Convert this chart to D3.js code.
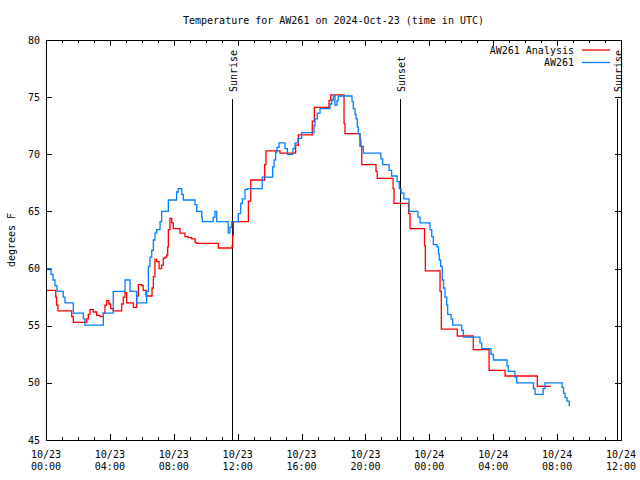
<!DOCTYPE html>
<html><head><meta charset="utf-8">
<script src="https://cdn.jsdelivr.net/npm/d3@7"></script>
<style>
body{margin:0;background:#fff}
svg{display:block}
text{font-family:"DejaVu Sans Mono","Liberation Mono",monospace;font-size:10px;fill:#000}
</style>
</head><body>
<svg id="chart" width="640" height="480"></svg>
<script>
const startTime = "2024-10-23T00:00:00Z";
const titleText = "Temperature for AW261 on 2024-Oct-23 (time in UTC)";
const yLabel = "degrees F";
const seriesNames = ["AW261 Analysis", "AW261"];
const seriesColors = ["#ff0000", "#0080ff"];
const yTicks = [45, 50, 55, 60, 65, 70, 75, 80];
const xDomainHours = [0, 36];

// Hours after 10/23 00:00 UTC
const analysisHours = [0.00,0.61,0.66,0.75,1.61,1.71,2.55,2.65,2.75,2.96,3.17,3.38,3.59,3.69,3.80,3.94,4.05,4.21,4.74,4.84,4.95,5.05,5.47,5.68,5.78,5.99,6.09,6.26,6.64,6.72,6.82,6.93,7.08,7.24,7.34,7.45,7.56,7.62,7.66,7.76,7.87,7.97,8.39,8.70,8.89,9.12,9.33,9.44,10.79,11.65,11.69,11.73,12.67,12.82,13.69,13.77,14.65,15.63,15.80,16.67,16.80,17.72,17.83,18.66,18.72,19.66,19.77,20.66,20.74,21.73,21.79,22.70,22.79,23.70,23.75,24.67,24.75,25.75,26.75,27.74,28.74,30.76,31.60];
const analysisTemps = [58.1,57.5,56.8,56.3,55.8,55.3,55.6,56.0,56.4,56.2,55.9,55.8,56.1,56.8,57.2,56.9,56.5,56.3,56.9,57.5,57.9,57.0,56.6,57.6,58.6,58.5,58.1,57.6,58.3,59.3,60.8,60.6,60.0,60.3,60.9,61.0,61.2,61.9,63.4,64.4,64.0,63.5,63.1,62.8,62.7,62.6,62.3,62.2,61.8,62.0,62.9,64.1,65.9,67.75,69.1,70.3,70.1,70.8,71.7,72.9,74.1,74.7,75.2,72.7,71.8,70.7,69.1,68.5,67.9,67.0,65.7,64.8,63.5,62.0,59.8,58.0,54.7,54.1,52.9,51.1,50.6,49.7,49.7];

const stationHours = [0.00,0.31,0.44,0.56,0.69,1.08,1.19,1.71,2.34,2.44,3.59,4.21,4.95,5.26,5.68,6.30,6.41,6.51,6.62,6.72,6.82,6.93,7.14,7.24,7.66,8.18,8.28,8.50,8.60,9.33,9.44,9.75,9.79,10.47,10.58,10.69,11.41,11.52,11.63,12.04,12.19,12.29,12.46,12.60,13.54,14.19,14.28,14.38,14.46,14.59,14.96,15.11,15.46,15.59,15.78,16.01,16.78,16.84,16.99,17.16,17.78,17.89,17.99,18.09,18.22,18.30,19.16,19.24,19.35,19.41,19.49,19.55,19.66,19.72,19.87,20.97,21.08,21.48,21.64,21.98,22.12,22.23,22.41,22.73,23.29,23.42,24.04,24.15,24.25,24.48,24.57,24.62,24.71,24.81,24.89,24.98,25.09,25.15,25.36,25.46,26.03,26.13,27.17,27.28,27.86,28.01,28.86,28.94,29.36,29.47,30.52,30.62,31.12,31.24,32.31,32.40,32.50,32.62,32.76,32.81];
const stationTemps = [60.0,59.5,59.0,58.5,58.0,57.5,57.0,56.1,55.6,55.05,56.1,58.0,59.0,58.0,57.0,58.0,60.2,61.0,61.6,62.5,63.1,63.4,64.1,65.0,66.0,66.7,67.0,66.5,66.0,65.6,65.0,64.5,64.1,64.5,65.0,64.1,63.1,63.6,64.1,64.8,65.7,66.1,66.9,67.0,68.0,68.9,69.5,70.2,70.6,71.0,70.5,70.0,70.5,71.0,71.4,71.9,72.5,73.1,73.6,74.0,74.4,74.75,75.1,74.3,74.7,75.1,74.6,74.0,73.5,73.1,72.4,71.8,71.25,70.7,70.1,69.6,69.1,68.6,68.1,67.6,67.0,66.6,66.1,65.0,64.5,64.0,63.4,62.8,62.1,61.9,61.3,60.75,60.2,59.0,58.3,57.5,56.8,56.0,55.6,55.05,54.6,54.0,53.5,53.0,52.5,52.0,51.5,51.0,50.5,50.0,49.5,49.0,49.5,50.0,49.6,49.1,48.7,48.4,48.0,48.0];

const sunLabels = ["Sunrise", "Sunset", "Sunrise"];
const sunHours = [11.66, 22.19, 35.72];

const svg = d3.select("#chart");
const L = 46, R = 621, T = 40, B = 440;
const t0 = new Date(startTime);
const toDate = h => new Date(t0.getTime() + h * 3600000);

const x = d3.scaleUtc().domain(xDomainHours.map(toDate)).range([L, R]);
const y = d3.scaleLinear().domain([45, 80]).range([B, T]);

// minor hourly ticks (inward, mirrored)
const hourly = d3.utcHour.every(1).range(x.domain()[0], new Date(x.domain()[1].getTime() + 1));
const major = d3.utcHour.every(4).range(x.domain()[0], new Date(x.domain()[1].getTime() + 1));
const g = svg.append("g").attr("shape-rendering", "crispEdges").attr("stroke", "#000").attr("stroke-width", 1);
hourly.forEach(d => {
  const len = (d.getUTCHours() % 4 === 0) ? 6 : 3;
  const px = Math.round(x(d)) + 0.5;
  g.append("line").attr("x1", px).attr("x2", px).attr("y1", B).attr("y2", B - len);
  g.append("line").attr("x1", px).attr("x2", px).attr("y1", T).attr("y2", T + len);
});
yTicks.forEach(v => {
  const py = Math.round(y(v)) + 0.5;
  g.append("line").attr("x1", L).attr("x2", L + 6).attr("y1", py).attr("y2", py);
  g.append("line").attr("x1", R).attr("x2", R - 6).attr("y1", py).attr("y2", py);
});

// y labels
svg.append("g").selectAll("text").data(yTicks).join("text")
  .attr("x", 40).attr("y", d => y(d)).attr("dy", "0.35em")
  .attr("text-anchor", "end").text(d => d);

// x labels
const fmtD = d3.utcFormat("%m/%d"), fmtT = d3.utcFormat("%H:%M");
const xl = svg.append("g").selectAll("text").data(major).join("text")
  .attr("text-anchor", "middle");
xl.append("tspan").attr("x", d => x(d)).attr("y", 458).text(d => fmtD(d));
xl.append("tspan").attr("x", d => x(d)).attr("y", 470).text(d => fmtT(d));

// title and axis label
svg.append("text").attr("x", (L + R) / 2).attr("y", 24).attr("text-anchor", "middle").text(titleText);
svg.append("text").attr("transform", "translate(11,240) rotate(-90)")
  .attr("text-anchor", "middle").attr("dominant-baseline", "central").text(yLabel);

// sun lines
sunHours.forEach((h, i) => {
  const px = Math.round(x(toDate(h))) + 0.5;
  g.append("line").attr("x1", px).attr("x2", px).attr("y1", 99).attr("y2", B);
  svg.append("text").attr("transform", `translate(${px + 0.5},92) rotate(-90)`)
    .attr("text-anchor", "start").attr("dominant-baseline", "central").text(sunLabels[i]);
});

// series
const line = d3.line().x(d => x(toDate(d[0]))).y(d => y(d[1])).curve(d3.curveStepAfter);
const analysisData = analysisHours.map((h, i) => [h, analysisTemps[i]]);
const stationData = stationHours.map((h, i) => [h, stationTemps[i]]);
svg.append("path").datum(analysisData).attr("d", line)
  .attr("fill", "none").attr("stroke", seriesColors[0]).attr("stroke-width", 1.3);
svg.append("path").datum(stationData).attr("d", line)
  .attr("fill", "none").attr("stroke", seriesColors[1]).attr("stroke-width", 1.3);

// border
svg.append("rect").attr("x", L + 0.5).attr("y", T + 0.5).attr("width", R - L).attr("height", B - T)
  .attr("fill", "none").attr("stroke", "#000").attr("shape-rendering", "crispEdges");

// legend
seriesNames.forEach((n, i) => {
  const ly = 50 + i * 12.5;
  svg.append("text").attr("x", 574).attr("y", ly).attr("dy", "0.35em").attr("text-anchor", "end").text(n);
  svg.append("line").attr("x1", 582).attr("x2", 610).attr("y1", ly).attr("y2", ly)
    .attr("stroke", seriesColors[i]).attr("stroke-width", 1.3);
});
</script>
</body></html>
